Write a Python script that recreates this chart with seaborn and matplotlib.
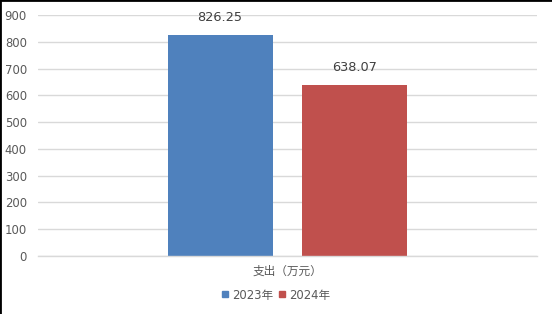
import matplotlib
matplotlib.use("Agg")
import matplotlib.pyplot as plt
import seaborn as sns
import pandas as pd
from matplotlib.lines import Line2D

category = ["支出（万元）"]
years = ["2023年", "2024年"]
values = [826.25, 638.07]
colors = ["#4F81BD", "#C0504D"]
yticks = [0, 100, 200, 300, 400, 500, 600, 700, 800, 900]

df = pd.DataFrame({"cat": category * len(years), "year": years, "value": values})

sns.set_theme(style="white")
plt.rcParams['font.family'] = ['DejaVu Sans', 'Noto Sans CJK SC']

fig = plt.figure(figsize=(5.52, 3.14), dpi=100)
ax = fig.add_axes([38/552, 1-256/314, (537-38)/552, (256-15)/314])

sns.barplot(data=df, x="cat", y="value", hue="year", palette=colors,
            width=0.541, gap=0.222, ax=ax, legend=False, saturation=1,
            linewidth=0, edgecolor="none")

ax.set_xlim(-0.5, 0.5)
ax.set_ylim(0, 900)
ax.set_yticks(yticks)
ax.yaxis.grid(True, color="#D9D9D9", linewidth=1)
ax.set_axisbelow(True)
for s in ["left", "right", "top"]:
    ax.spines[s].set_visible(False)
ax.spines["bottom"].set_color("#D9D9D9")
ax.spines["bottom"].set_linewidth(1)
ax.tick_params(axis="y", length=0, pad=8, labelsize=8.4, labelcolor="#595959")
ax.tick_params(axis="x", length=0, pad=6, labelsize=8.4, labelcolor="#595959")
ax.set_xlabel("")
ax.set_ylabel("")

for cont in ax.containers:
    ax.bar_label(cont, fmt="%.2f", padding=8, fontsize=9.3, color="#404040")

handles = [Line2D([0], [0], marker="s", linestyle="", markersize=5,
                  markerfacecolor=c, markeredgecolor=c) for c in colors]
fig.legend(handles, years, loc="center", bbox_to_anchor=(276/552, 1-295/314),
           ncol=2, frameon=False, fontsize=8.4, handletextpad=0.3,
           columnspacing=0.5, handlelength=0.6, labelcolor="#595959")

fig.add_artist(Line2D([0, 0], [0, 1], transform=fig.transFigure, color="black", linewidth=2))
fig.add_artist(Line2D([0, 1], [1, 1], transform=fig.transFigure, color="black", linewidth=2))

fig.savefig("out.png", dpi=100)
